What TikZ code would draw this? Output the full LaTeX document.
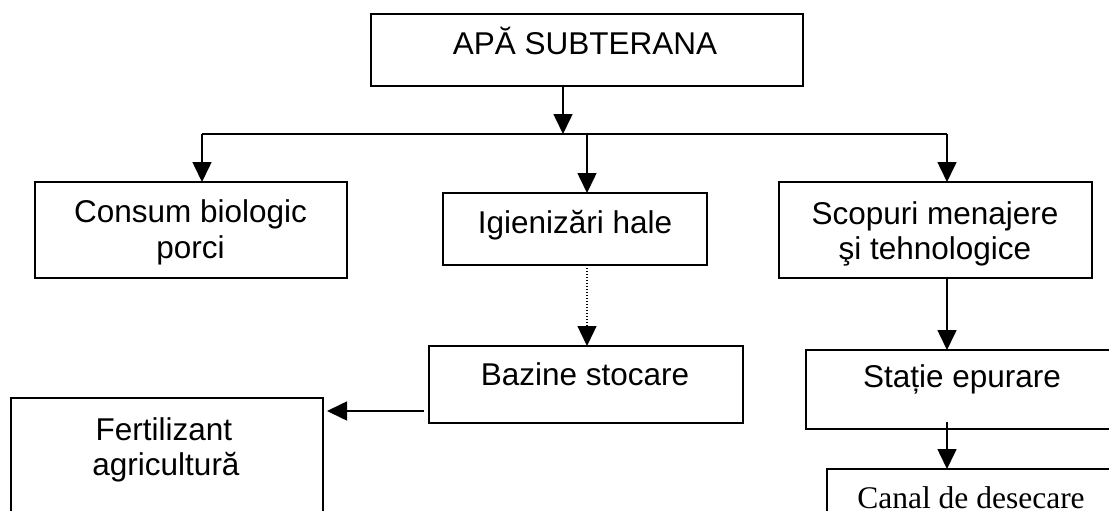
\documentclass[tikz,border=0pt]{standalone}
\usepackage{fontspec}
\setmainfont{Liberation Sans}
\newfontfamily\seriffam{Liberation Serif}
\usetikzlibrary{arrows.meta}
\begin{document}
\begin{tikzpicture}[x=1pt,y=1pt,
  box/.style={draw, line width=1.6pt, rectangle, inner sep=0pt, outer sep=0pt},
  lbl/.style={anchor=base, inner sep=0pt, font=\fontsize{31.5}{36}\selectfont},
  arr/.style={line width=1.6pt, -{Triangle[length=20pt,width=19pt]}},
  dotarr/.style={line width=1.3pt, dash pattern=on 1.2pt off 1.8pt, -{Triangle[length=20pt,width=19pt,sep=0pt]}}]
\useasboundingbox (0,0) rectangle (1109,-511);
\clip (0,0) rectangle (1109,-511);
\fill[white] (0,0) rectangle (1109,-511);
% boxes
\node[box, minimum width=432, minimum height=72] (apa) at (587,-50) {};
\node[box, minimum width=312, minimum height=96] (cons) at (191,-230) {};
\node[box, minimum width=264, minimum height=72] (igi) at (575,-229) {};
\node[box, minimum width=313, minimum height=96] (scop) at (935.5,-230) {};
\node[box, minimum width=314, minimum height=77] (baz) at (586,-384.5) {};
\node[box, minimum width=312, minimum height=140] (fert) at (167,-468) {};
\node[box, minimum width=313, minimum height=79] (stat) at (962.5,-389.5) {};
\node[box, minimum width=313, minimum height=100] (can) at (983.5,-519) {};
% texts
\node[lbl] (apaT) at (585,-55) {APĂ SUBTERANA};
\node[lbl] (consT1) at (190.5,-222) {Consum biologic};
\node[lbl] (consT2) at (190.5,-258) {porci};
\node[lbl] (igiT) at (575,-233) {Igienizări hale};
\node[lbl] (scopT1) at (935,-224) {Scopuri menajere};
\node[lbl] (scopT2) at (935,-259) {şi tehnologice};
\node[lbl] (bazT) at (585,-385) {Bazine stocare};
\node[lbl] (fertT1) at (164,-440) {Fertilizant};
\node[lbl] (fertT2) at (166,-475) {agricultură};
\node[lbl] (statT) at (962,-387) {Stație epurare};
\node[lbl, font=\seriffam\fontsize{31.5}{36}\selectfont] (canT) at (971,-508) {Canal de desecare};
% bus
\coordinate (busL) at (202,-134);
\coordinate (busA) at (563,-134);
\coordinate (busM) at (587,-134);
\coordinate (busR) at (947,-134);
\draw[line width=1.6pt] (busL) -- (busR);
\draw[arr] (apa.south -| busA) -- (busA);
\draw[arr] (busL) -- (cons.north -| busL);
\draw[arr] (busM) -- (igi.north -| busM);
\draw[arr] (busR) -- (scop.north -| busR);
\draw[dotarr] (igi.south -| busM) -- (baz.north -| busM);
\coordinate (bs) at ([shift={(-5,-26.5)}]baz.west);
\draw[arr, shorten >=4pt] (bs) -- (fert.east |- bs);
\draw[arr] (scop.south -| busR) -- (stat.north -| busR);
\coordinate (ss) at ([yshift=7]stat.south -| busR);
\draw[arr] (ss) -- (can.north -| busR);
\end{tikzpicture}
\end{document}
